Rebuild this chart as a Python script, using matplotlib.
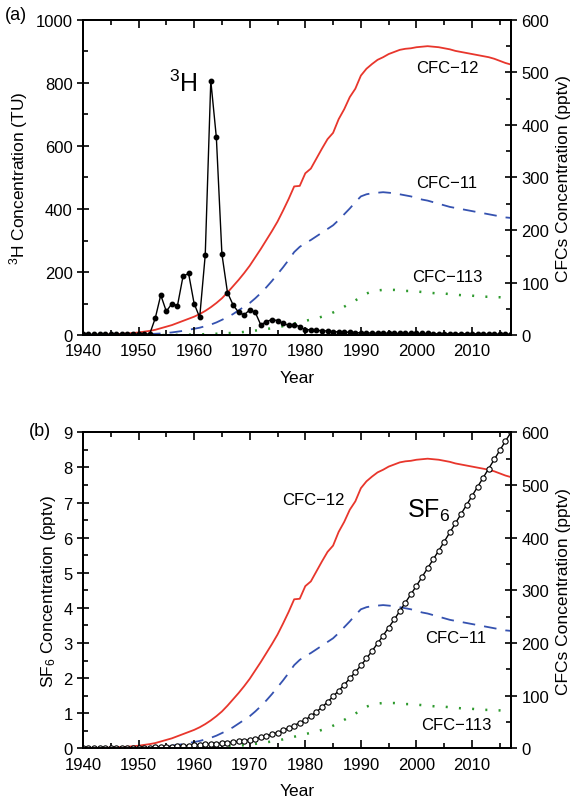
import numpy as np
import matplotlib
matplotlib.use("Agg")
import matplotlib.pyplot as plt
from matplotlib.ticker import MultipleLocator

plt.rcParams['font.family'] = ['Liberation Sans', 'DejaVu Sans']
plt.rcParams['mathtext.default'] = 'regular'

# years 1940-2017
years = list(range(1940, 2018))

# tritium in precipitation (TU)
tritium = [2, 2, 2, 2, 2, 2, 2, 2, 2, 2, 3, 3, 3,
           53, 127, 75, 100, 93, 186, 196, 100, 56, 254, 807, 627, 257,
           135, 96, 72, 64, 80, 72, 32, 43, 49, 46, 37, 31, 33, 27,
           17, 17, 15, 14, 13, 11, 10, 9, 9, 8,
           7, 7, 6, 6, 6, 6, 5, 5, 5, 5,
           5, 5, 5, 4, 4, 4, 4, 4, 4, 4,
           4, 4, 3, 3, 3, 3, 3, 3]

# atmospheric CFCs (pptv)
cfc12 = [0, 0.2, 0.4, 0.6, 0.9, 1.3, 1.8, 2.4, 3.0, 4.0,
         5, 6.5, 8, 10, 13, 16, 19, 23, 27, 31,
         35, 40, 46, 53, 61, 70, 81, 93, 105, 118,
         132, 148, 164, 181, 198, 216, 237, 259, 283, 284,
         308, 317, 336, 355, 373, 385, 411, 430, 453, 469,
         494, 507, 516, 524, 529, 535, 539, 543, 545, 546,
         548, 549, 550, 549, 548, 546, 544, 541, 539, 537,
         535, 533, 531, 529, 526, 522, 518, 515]
cfc11 = [0, 0, 0.1, 0.1, 0.2, 0.2, 0.3, 0.5, 0.6, 0.8,
         1, 1.5, 2, 2.5, 3, 4, 5, 6.5, 8, 10,
         12, 14, 17, 20, 24, 29, 34, 40, 47, 54,
         61, 70, 80, 91, 103, 116, 129, 143, 158, 168,
         175, 181, 188, 195, 202, 209, 219, 230, 241, 253,
         264, 268, 270, 271, 272, 271, 270, 268, 266, 264,
         261, 258, 256, 253, 250, 247, 244, 242, 240, 238,
         236, 234, 232, 230, 228, 226, 224, 223]
cfc113 = [0, 0, 0, 0, 0, 0, 0, 0, 0, 0,
          0, 0, 0, 0, 0, 0, 0.3, 0.4, 0.6, 0.8,
          1, 1.3, 1.7, 2.1, 2.5, 3, 3.6, 4.3, 5, 6,
          7, 8.5, 10, 11.5, 13, 15, 17, 19.5, 22, 24.5,
          27, 29.5, 32, 35, 38, 43, 48, 54, 60, 66,
          72, 79, 83, 85, 86, 86, 86, 85, 84, 84,
          83, 82, 81, 80, 79, 79, 78, 77, 76, 75,
          75, 74, 73, 73, 72, 72, 71, 70]

# atmospheric SF6 (pptv)
sf6 = [0, 0, 0, 0, 0, 0, 0, 0, 0, 0,
       0, 0, 0.02, 0.03, 0.04, 0.05, 0.05, 0.06, 0.07, 0.08,
       0.09, 0.10, 0.11, 0.12, 0.13, 0.15, 0.16, 0.18, 0.20, 0.22,
       0.24, 0.27, 0.31, 0.35, 0.40, 0.45, 0.51, 0.58, 0.65, 0.73,
       0.81, 0.92, 1.04, 1.17, 1.32, 1.48, 1.64, 1.81, 1.99, 2.17,
       2.36, 2.56, 2.77, 2.99, 3.21, 3.44, 3.67, 3.91, 4.15, 4.39,
       4.63, 4.88, 5.13, 5.38, 5.63, 5.89, 6.15, 6.41, 6.67, 6.93,
       7.19, 7.45, 7.71, 7.97, 8.23, 8.49, 8.75, 9.0]

red = '#e8362c'
blue = '#3552b0'
green = '#2e9a2e'
fs = 12
lfs = 12.5

fig = plt.figure(figsize=(5.8, 8.04), dpi=100)
ax_a = fig.add_axes([0.143, 0.582, 0.738, 0.392])
ax_b = fig.add_axes([0.143, 0.068, 0.738, 0.393])


def style_axes(ax, ax2):
    ax.set_xlim(1940, 2017)
    ax.xaxis.set_major_locator(MultipleLocator(10))
    ax.xaxis.set_minor_locator(MultipleLocator(5))
    ax.tick_params(axis='x', which='major', direction='in', length=6, width=1.2,
                   top=True, labelsize=fs, pad=6)
    ax.tick_params(axis='x', which='minor', direction='in', length=3.5, width=1.2,
                   top=True)
    ax.tick_params(axis='y', which='major', direction='inout', length=8, width=1.2,
                   labelsize=fs)
    ax.tick_params(axis='y', which='minor', direction='in', length=3.5, width=1.2)
    ax2.tick_params(axis='y', which='major', direction='inout', length=8, width=1.2,
                    labelsize=fs)
    ax2.tick_params(axis='y', which='minor', direction='in', length=3.5, width=1.2)
    ax2.set_ylim(0, 600)
    ax2.yaxis.set_major_locator(MultipleLocator(100))
    ax2.yaxis.set_minor_locator(MultipleLocator(50))
    for a in (ax, ax2):
        for s in a.spines.values():
            s.set_linewidth(1.4)
    ax.set_xlabel('Year', fontsize=lfs, labelpad=8)
    ax2.set_ylabel('CFCs Concentration (pptv)', fontsize=lfs, labelpad=5)
    ax.set_zorder(ax2.get_zorder() + 1)
    ax.patch.set_visible(False)


def draw_cfcs(ax2):
    ax2.plot(years, cfc12, color=red, lw=1.3)
    ax2.plot(years, cfc11, color=blue, lw=1.3, dashes=(7, 5))
    ax2.plot(years, cfc113, color=green, lw=1.8, dashes=(0.8, 4.5))


# (a) tritium and CFCs
ax_a2 = ax_a.twinx()
draw_cfcs(ax_a2)
ax_a.plot(years, tritium, color='black', lw=1.0, marker='o', ms=3.2)
ax_a.set_ylim(0, 1000)
ax_a.yaxis.set_major_locator(MultipleLocator(200))
ax_a.yaxis.set_minor_locator(MultipleLocator(100))
ax_a.set_ylabel('$^{3}$H Concentration (TU)', fontsize=lfs)
style_axes(ax_a, ax_a2)
ax_a.text(1958.0, 800, '$^{3}$H', fontsize=18, ha='center', va='center')
ax_a2.text(2005.5, 510, 'CFC\u221212', fontsize=fs, ha='center', va='center')
ax_a2.text(2005.5, 291, 'CFC\u221211', fontsize=fs, ha='center', va='center')
ax_a2.text(2005.5, 112, 'CFC\u2212113', fontsize=fs, ha='center', va='center')
fig.text(0.008, 0.981, '(a)', fontsize=13, ha='left', va='center')

# (b) SF6 and CFCs
ax_b2 = ax_b.twinx()
draw_cfcs(ax_b2)
ax_b.plot(years, sf6, color='black', lw=1.0, marker='o', ms=3.8,
          mfc='white', mec='black', mew=0.8)
ax_b.set_ylim(0, 9)
ax_b.yaxis.set_major_locator(MultipleLocator(1))
ax_b.yaxis.set_minor_locator(MultipleLocator(0.5))
ax_b.set_ylabel('SF$_{6}$ Concentration (pptv)', fontsize=lfs)
style_axes(ax_b, ax_b2)
ax_b.text(2002.1, 6.8, 'SF$_{6}$', fontsize=18, ha='center', va='center')
ax_b.text(1981.5, 7.1, 'CFC\u221212', fontsize=fs, ha='center', va='center')
ax_b.text(2007.0, 3.15, 'CFC\u221211', fontsize=fs, ha='center', va='center')
ax_b.text(2007.2, 0.68, 'CFC\u2212113', fontsize=fs, ha='center', va='center')
fig.text(0.05, 0.463, '(b)', fontsize=13, ha='left', va='center')

fig.savefig('out.png', dpi=100)
